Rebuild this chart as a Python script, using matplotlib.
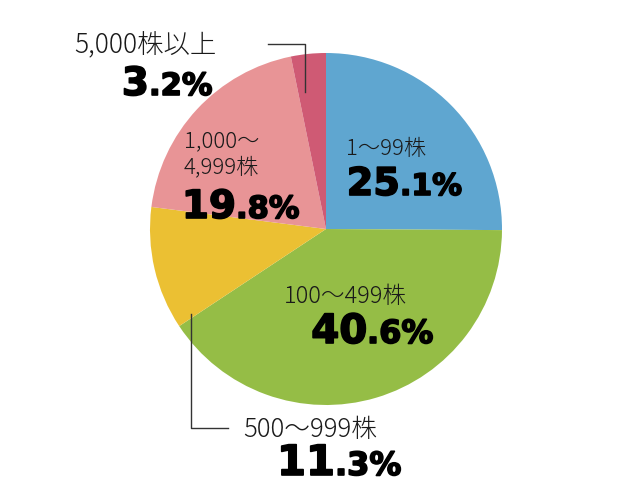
import matplotlib
matplotlib.use("Agg")
import matplotlib.pyplot as plt
import matplotlib.patheffects as pe

# share of shareholders by holding size
labels = ["1～99株", "100～499株", "500～999株", "1,000～\n4,999株", "5,000株以上"]
values = [25.1, 40.6, 11.3, 19.8, 3.2]
colors = ["#5fa6d0", "#95bd46", "#ebc033", "#e89496", "#cf5a74"]

# text placement (pixels from top-left corner)
label_pos = [(346, 155), (284, 303), (243, 437), (184, 173), (74, 53)]
label_size = [16, 17, 18.5, 16, 19]
num_pos = [(400, 195), (367, 343), (335, 475), (236, 218), (149, 95)]
num_size = [(27.5, 21.5), (29, 23), (30, 23), (28, 22), (28, 22)]

jp = ["Noto Sans CJK JP", "DejaVu Sans"]

fig = plt.figure(figsize=(6.4, 5.0), dpi=100)
ax = fig.add_axes([0, 0, 1, 1])

ax.pie(values, colors=colors, startangle=90, counterclock=False,
       center=(326, 271), radius=176, frame=True,
       wedgeprops=dict(linewidth=0))
ax.set_xlim(0, 640)
ax.set_ylim(0, 500)
ax.set_aspect("equal")
ax.axis("off")

for lab, (lx, ly), fs in zip(labels, label_pos, label_size):
    ax.text(lx, 500 - ly, lab, fontsize=fs, family=jp, weight="light",
            ha="left", va="baseline", color="#1a1a1a", linespacing=1.2,
            multialignment="left")

heavy = [pe.withStroke(linewidth=1.2, foreground="black")]
for v, (nx, ny), (s1, s2) in zip(values, num_pos, num_size):
    whole, frac = f"{v:.1f}".split(".")
    ax.text(nx, 500 - ny, whole, fontsize=s1, family="DejaVu Sans",
            weight="bold", ha="right", va="baseline", color="black",
            path_effects=heavy)
    ax.text(nx, 500 - ny, "." + frac + "%", fontsize=s2, family="DejaVu Sans",
            weight="bold", ha="left", va="baseline", color="black",
            path_effects=heavy)

# leader lines
ax.plot([268, 305, 305], [500 - 44, 500 - 44, 500 - 92], color="#333333", lw=1)
ax.plot([191, 191, 228], [500 - 314, 500 - 428, 500 - 428], color="#333333", lw=1)

fig.savefig("out.png", dpi=100)
